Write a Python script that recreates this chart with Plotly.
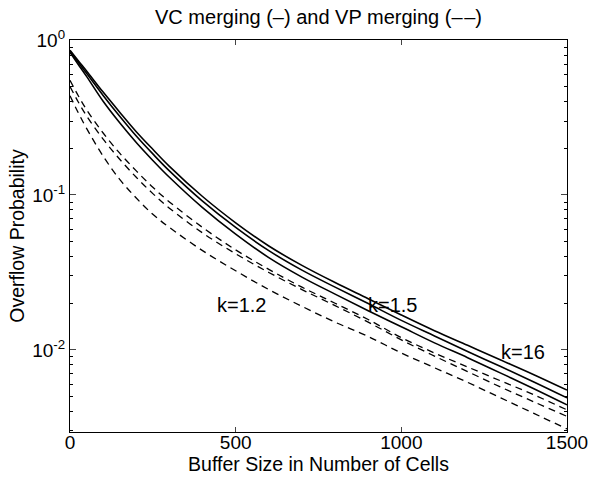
import math
import plotly.graph_objects as go

buffer_size = [0, 25, 50, 100, 150, 200, 250, 300, 400, 500, 600, 700, 800, 900,
               1000, 1100, 1200, 1300, 1400, 1500]

vc_a = [0.859, 0.735, 0.631, 0.461, 0.342, 0.256, 0.197, 0.153, 0.0977, 0.0661,
        0.0468, 0.0351, 0.0272, 0.0214, 0.0168, 0.0133, 0.0107, 0.00861, 0.00692, 0.0055]
vc_b = [0.849, 0.718, 0.610, 0.439, 0.322, 0.240, 0.184, 0.143, 0.0912, 0.0617,
        0.0437, 0.0327, 0.0254, 0.0199, 0.0155, 0.0123, 0.00977, 0.0078, 0.00621, 0.0049]
vc_c = [0.832, 0.695, 0.582, 0.402, 0.292, 0.218, 0.167, 0.130, 0.0828, 0.0558,
        0.0394, 0.0295, 0.0229, 0.0179, 0.0141, 0.0111, 0.00891, 0.00708, 0.00562, 0.00442]

vp_a = [0.550, 0.437, 0.355, 0.251, 0.186, 0.143, 0.112, 0.0902, 0.0617, 0.0442,
        0.0331, 0.0254, 0.0200, 0.0157, 0.0120, 0.00955, 0.00776, 0.00631, 0.00513, 0.0041]
vp_b = [0.501, 0.398, 0.324, 0.229, 0.170, 0.130, 0.102, 0.0822, 0.0569, 0.0417,
        0.0316, 0.0245, 0.0193, 0.0151, 0.0116, 0.00912, 0.00724, 0.00575, 0.00462, 0.00372]
vp_c = [0.437, 0.339, 0.269, 0.178, 0.126, 0.0955, 0.075, 0.0617, 0.0437, 0.0324,
        0.0245, 0.0191, 0.0151, 0.0122, 0.00955, 0.00767, 0.00617, 0.0049, 0.00389, 0.00309]

labels = ["k=1.2", "k=1.5", "k=16"]
label_x = [519, 972, 1367]
label_y = [0.0195, 0.0195, 0.0097]

x_ticks = [0, 500, 1000, 1500]
y_ticks = [1, 0.1, 0.01]
y_ticktext = ["10<sup>0</sup>", "10<sup>-1</sup>", "10<sup>-2</sup>"]
minor_vals = [m * 10 ** e for e in (-3, -2, -1) for m in range(2, 10) if m * 10 ** e >= 0.003]

FONT = "Liberation Sans, Arial, Helvetica, sans-serif"

fig = go.Figure()
for ys in (vc_a, vc_b, vc_c):
    fig.add_trace(go.Scatter(x=buffer_size, y=ys, mode="lines", line_shape="spline",
                             line=dict(color="black", width=1.6), showlegend=False))
for ys in (vp_a, vp_b, vp_c):
    fig.add_trace(go.Scatter(x=buffer_size, y=ys, mode="lines", line_shape="spline",
                             line=dict(color="black", width=1.3, dash="7px,5px"),
                             showlegend=False))

for t, xv, yv in zip(labels, label_x, label_y):
    fig.add_annotation(x=xv, y=math.log10(yv), yref="y", xref="x", text=t,
                       showarrow=False,
                       font=dict(size=20, color="black", family=FONT))

fig.update_layout(
    width=591, height=479,
    margin=dict(l=70, r=24, t=40, b=47, autoexpand=False),
    paper_bgcolor="white", plot_bgcolor="white",
    font=dict(family=FONT, size=19, color="black"),
    title=dict(text="VC merging (–) and VP merging (–\u200a–)", x=0.539, xanchor="center",
               y=0.965, yanchor="middle", font=dict(size=20, family=FONT)),
)
fig.update_xaxes(
    range=[0, 1500], tickvals=x_ticks, ticks="inside", ticklen=5,
    showline=True, linecolor="black", linewidth=1.2, mirror="ticks",
    showgrid=False, zeroline=False, automargin=False,
    ticklabelstandoff=-7,
    title=dict(text="Buffer Size in Number of Cells", standoff=0,
               font=dict(size=19.5, family=FONT)),
    tickfont=dict(size=19, family=FONT),
)
fig.update_yaxes(
    type="log", range=[-2.53, 0], tickvals=y_ticks, ticktext=y_ticktext,
    ticks="inside", ticklen=6,
    minor=dict(ticks="inside", ticklen=3, tickvals=minor_vals, showgrid=False,
               tickcolor="black"),
    showline=True, linecolor="black", linewidth=1.2, mirror="ticks",
    showgrid=False, zeroline=False, automargin=False,
    title=dict(text="Overflow Probability", standoff=2,
               font=dict(size=19.5, family=FONT)),
    tickfont=dict(size=19, family=FONT),
)

fig.write_html("out.html")
